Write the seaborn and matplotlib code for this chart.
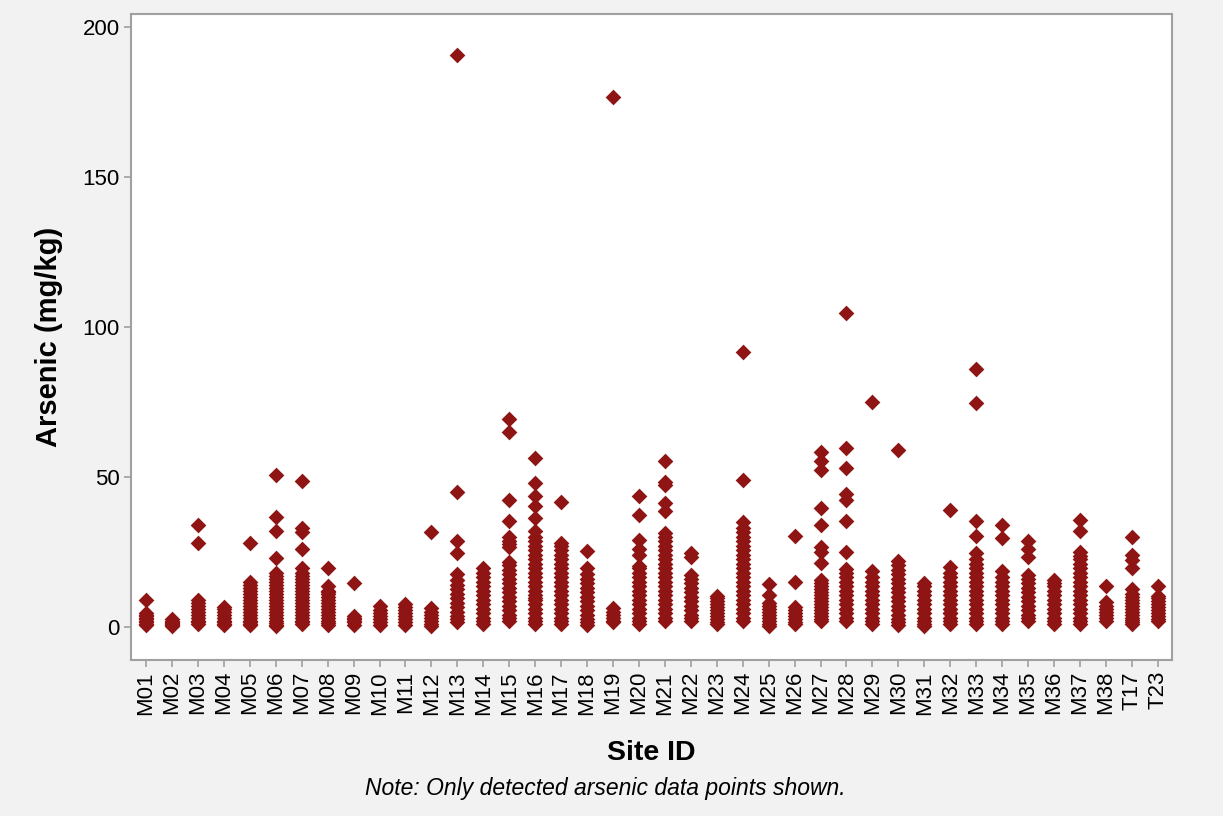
import matplotlib
matplotlib.use("Agg")
import matplotlib.pyplot as plt
import seaborn as sns
import pandas as pd

sites = ["M01", "M02", "M03", "M04", "M05", "M06", "M07", "M08", "M09", "M10",
         "M11", "M12", "M13", "M14", "M15", "M16", "M17", "M18", "M19", "M20",
         "M21", "M22", "M23", "M24", "M25", "M26", "M27", "M28", "M29", "M30",
         "M31", "M32", "M33", "M34", "M35", "M36", "M37", "M38", "T17", "T23"]

m01 = [0.5, 1, 1.5, 2, 2.5, 3, 3.5, 4, 4.5, 9]
m02 = [0.3, 0.6, 1, 1.3, 1.6, 2, 2.5]
m03 = [1, 1.5, 2, 3, 4, 5, 6, 7, 8, 9, 28, 34]
m04 = [0.5, 1, 1.5, 2, 3, 4, 5, 6, 6.7]
m05 = [0.5, 1, 1.5, 2, 3, 4, 5, 6, 7, 8, 9, 10, 11, 12, 13, 14, 15, 28]
m06 = [0.3, 0.8, 1.3, 2, 3, 4, 5, 6, 7, 8, 9, 10, 11, 12, 13, 14, 15, 16, 17, 18,
       23, 32, 36.5, 50.7]
m07 = [1, 1.5, 2, 3, 4, 5, 6, 7, 8, 9, 10, 11, 12, 13, 14, 15, 16, 17, 18, 19.5,
       26, 31.5, 33, 48.7]
m08 = [0.7, 1.2, 2, 3, 4, 5, 6, 7, 8, 9, 10, 11, 11.5, 12, 13.5, 19.6]
m09 = [0.8, 1.5, 2, 2.5, 3, 3.5, 14.6]
m10 = [0.8, 1.5, 2.5, 3.5, 4.5, 5.5, 7]
m11 = [0.7, 1.5, 2.5, 3.5, 4.5, 5.5, 6.5, 7.8]
m12 = [0.3, 1, 2, 3, 4, 5, 6.3, 31.6]
m13 = [1.5, 2.5, 3.5, 5, 6.5, 8, 9.5, 11, 12.5, 14, 15.5, 17.5, 24.8, 28.7, 45, 190.5]
m14 = [1, 2, 3, 4.5, 6, 7.5, 9, 10.5, 12, 13.5, 15, 16.5, 18, 19.7]
m15 = [2, 3, 4, 5.5, 7, 8.5, 10, 11.5, 13, 14.5, 16, 17.5, 19, 20.5, 21.5, 26.5,
       27.5, 28.5, 30, 35.3, 42.3, 65, 69.2]
m16 = [1, 2, 3, 4.5, 6, 7.5, 9, 9.6, 10.5, 12, 13.5, 15, 16.5, 18, 19.5, 21, 22.5,
       24, 25.5, 27, 28.5, 30, 32, 36.2, 40.3, 43.8, 48, 56.4]
m17 = [1, 2, 3, 4.5, 6, 7.5, 9, 10.5, 12, 13.5, 15, 16.5, 18, 19.5, 21, 22.5, 24,
       25.5, 27, 28, 41.6]
m18 = [0.8, 1.5, 2.5, 4, 5.5, 7, 8.5, 10, 11.5, 13, 14.5, 16, 17.5, 19.8, 25.3]
m19 = [1.5, 2, 3, 4, 5, 6.3, 176.5]
m20 = [1, 2, 3, 4.5, 6, 7.5, 9, 10.5, 12, 13.5, 15, 16.5, 18, 19.5, 20.4, 24, 26,
       29, 37.3, 43.8]
m21 = [2, 3, 4.5, 6, 7.5, 9, 10.5, 12, 13.5, 15, 16.5, 18, 19.5, 21, 22.5, 24, 25.5,
       27, 28.5, 30, 31.3, 38.7, 41.4, 47.3, 48.3, 55.3]
m22 = [2, 3, 4, 5.5, 7, 8.5, 10, 11.5, 13, 14.5, 16, 17.3, 23.4, 24.8]
m23 = [1, 1.5, 2.5, 3.5, 4.5, 5.5, 6.5, 7.5, 8.5, 9.5, 10.3]
m24 = [2, 3, 4.5, 6, 7.5, 9, 10.5, 12, 13.5, 15, 16.5, 18, 19.5, 21, 22.5, 24, 25.5,
       27, 28.5, 30, 31.5, 33, 35, 49, 91.5]
m25 = [0.2, 1, 2, 3, 4, 5, 6, 7, 8, 10.7, 14.3]
m26 = [1, 1.5, 2.5, 3.5, 4.5, 5.5, 6.5, 14.9, 30.4]
m27 = [2, 2.5, 3.5, 4.5, 5.5, 6.5, 7.5, 8.5, 9.5, 10.5, 11.5, 12.5, 13.5, 14.5, 15.6,
       21.2, 25.1, 26.8, 34, 39.8, 52.3, 55.3, 58.2]
m28 = [2, 3, 4.5, 6, 7.5, 9, 10.5, 12, 13.5, 15, 16.5, 18, 19.3, 24.9, 35.4, 42.3,
       44.2, 53.1, 59.6, 104.5]
m29 = [1, 2, 3, 4.5, 6, 7.5, 9, 10.5, 12, 13.5, 15, 16.5, 18.5, 75.1]
m30 = [0.5, 1.5, 2.5, 4, 5.5, 7, 8.5, 10, 11.5, 13, 14.5, 16, 17.5, 19, 20.5, 22, 59]
m31 = [0.3, 1, 2, 3, 4.5, 6, 7.5, 9, 10.5, 12, 13.5, 14.5]
m32 = [1, 2, 3, 4.5, 4.7, 6, 7.5, 9, 10.5, 12, 13.5, 15, 16.5, 18, 20, 39]
m33 = [1, 2, 3, 4.5, 6, 7.5, 9, 10.5, 12, 13.5, 15, 16.5, 18, 19.5, 21, 22.5, 24.5,
       30.4, 35.4, 74.7, 86]
m34 = [1, 2, 3, 4.5, 6, 7.5, 9, 10.5, 12, 13.5, 15, 16.5, 18.7, 29.8, 34]
m35 = [2, 3, 4, 5.5, 7, 8.5, 10, 11.5, 13, 14.5, 16, 17.3, 23.4, 26, 28.7]
m36 = [1, 2, 3, 4.5, 6, 7.5, 9, 10.5, 12, 13.5, 14.5, 15.6]
m37 = [1, 2, 3, 4.5, 6, 7.5, 9, 10.5, 12, 13.5, 15, 16.5, 18, 19.5, 21, 22.5, 23.5,
       25, 32, 35.7]
m38 = [2, 3, 4, 5, 6, 7, 8.2, 13.7]
t17 = [1, 1.5, 2.3, 3, 4, 5, 6, 7, 8, 9, 10, 11, 12.6, 19.6, 22.3, 24, 29.9]
t23 = [2, 2.5, 3.5, 4.5, 5.5, 6.5, 7.5, 8.5, 9.5, 10.3, 13.7]

site_values = [m01, m02, m03, m04, m05, m06, m07, m08, m09, m10,
               m11, m12, m13, m14, m15, m16, m17, m18, m19, m20,
               m21, m22, m23, m24, m25, m26, m27, m28, m29, m30,
               m31, m32, m33, m34, m35, m36, m37, m38, t17, t23]

rows = []
for s, vals in zip(sites, site_values):
    for v in vals:
        rows.append((s, v))
df = pd.DataFrame(rows, columns=["site", "arsenic"])

plt.rcParams["font.family"] = ["Liberation Sans", "DejaVu Sans"]

fig = plt.figure(figsize=(12.23, 8.16), dpi=100)
fig.patch.set_facecolor("#f2f2f2")
ax = fig.add_axes([131 / 1223, 1 - 660 / 816, (1172 - 131) / 1223, (660 - 14) / 816])
ax.set_facecolor("white")

sns.stripplot(data=df, x="site", y="arsenic", order=sites, jitter=False,
              marker="D", size=8, color="#8f1515", linewidth=0, ax=ax)

ax.set_xlim(-0.58, 39.55)
ax.set_ylim(-11, 204.3)
ax.set_yticks([0, 50, 100, 150, 200])
ax.set_xticks(range(len(sites)))
ax.set_xticklabels(sites, rotation=90)

for sp in ax.spines.values():
    sp.set_color("#a0a0a0")
    sp.set_linewidth(1.5)
ax.tick_params(axis="both", direction="out", length=5, width=1.2, color="#a0a0a0",
               labelsize=16, labelcolor="black", pad=3)

ax.set_xlabel("Site ID", fontsize=20.5, fontweight="bold", labelpad=18)
ax.set_ylabel("Arsenic (mg/kg)", fontsize=21, fontweight="bold", labelpad=14)

fig.text(605 / 1223, 1 - 789 / 816, "Note: Only detected arsenic data points shown.",
         ha="center", va="center", fontsize=16.5, style="italic")

fig.savefig("out.png", dpi=100, facecolor=fig.get_facecolor())
